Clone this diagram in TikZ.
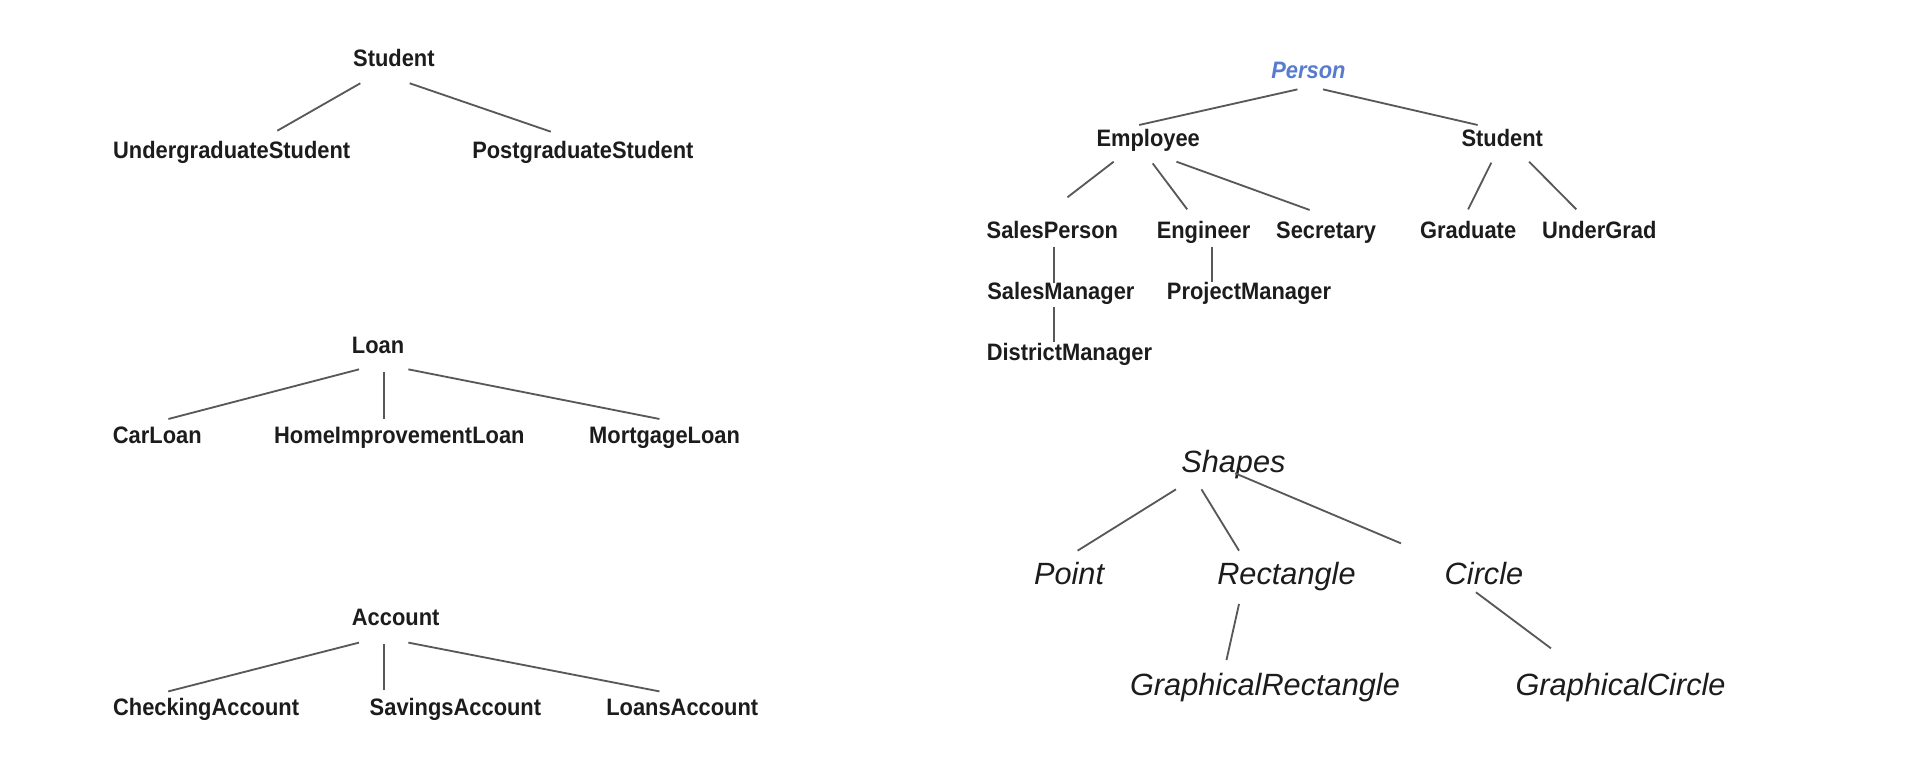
\documentclass[tikz,border=0pt]{standalone}
\usepackage{fontspec}
\newfontfamily\clsfont{Liberation Sans}[FakeStretch=0.92]
\newfontfamily\shpfont{Liberation Sans}
\definecolor{ink}{RGB}{28,28,28}
\definecolor{edgegray}{RGB}{88,88,88}
\definecolor{personblue}{RGB}{88,124,205}
\tikzset{
  cls/.style={font={\clsfont\bfseries\fontsize{19.5}{22}\selectfont}, text=ink, inner sep=0pt, text height=14pt, text depth=0pt},
  abst/.style={cls, font={\clsfont\bfseries\itshape\fontsize{19.5}{22}\selectfont}, text=personblue},
  shp/.style={font={\shpfont\itshape\fontsize{25.2}{28}\selectfont}, text=ink, inner sep=0pt, text height=18pt, text depth=0pt},
  edge/.style={draw=edgegray, line width=1.5pt}
}
\begin{document}
\begin{tikzpicture}[x=1pt,y=-1pt]
\useasboundingbox[fill=white] (0,0) rectangle (1568,628.2);

% ---- Student tree
\node[cls] (s1) at (323,47.8) {Student};
\node[cls] (ug) at (190,123) {UndergraduateStudent};
\node[cls] (pg) at (478,123) {PostgraduateStudent};
\draw[edge] ([shift={(-27.5,20.5)}]s1.center) -- ([shift={(37.4,-15.8)}]ug.center);
\draw[edge] ([shift={(13,20.5)}]s1.center) -- ([shift={(-26.3,-15)}]pg.center);

% ---- Loan tree
\node[cls] (loan) at (310,283) {Loan};
\node[cls] (car) at (129,357) {CarLoan};
\node[cls] (hil) at (327.5,357) {HomeImprovementLoan};
\node[cls] (mort) at (545,357) {MortgageLoan};
\draw[edge] ([shift={(-15.6,19.9)}]loan.center) -- ([shift={(9.1,-13.4)}]car.center);
\draw[edge] ([shift={(4.6,21.8)}]loan.center) -- ([shift={(-12.9,-13.4)}]hil.center);
\draw[edge] ([shift={(24.9,19.9)}]loan.center) -- ([shift={(-4.2,-13.4)}]mort.center);

% ---- Account tree
\node[cls] (acc) at (324.5,506) {Account};
\node[cls] (chk) at (169,580) {CheckingAccount};
\node[cls] (sav) at (373.5,580) {SavingsAccount};
\node[cls] (lac) at (559.5,580) {LoansAccount};
\draw[edge] ([shift={(-30.1,21)}]acc.center) -- ([shift={(-31,-13)}]chk.center);
\draw[edge] ([shift={(-9.9,22)}]acc.center) -- ([shift={(-58.9,-14)}]sav.center);
\draw[edge] ([shift={(10.4,21)}]acc.center) -- ([shift={(-18.7,-13)}]lac.center);

% ---- Person tree
\node[abst] (per) at (1073,57.4) {Person};
\node[cls] (emp) at (941.6,112.8) {Employee};
\node[cls] (stu) at (1232,112.8) {Student};
\node[cls] (sp) at (863,188.6) {SalesPerson};
\node[cls] (eng) at (987,188.6) {Engineer};
\node[cls] (sec) at (1087.5,188.6) {Secretary};
\node[cls] (grad) at (1204,188.6) {Graduate};
\node[cls] (ugr) at (1311.5,188.6) {UnderGrad};
\node[cls] (sm) at (870,239) {SalesManager};
\node[cls] (pm) at (1024.3,239) {ProjectManager};
\node[cls] (dm) at (877,289) {DistrictManager};
\draw[edge] ([shift={(-9,15.9)}]per.center) -- ([shift={(-7.4,-10.3)}]emp.center);
\draw[edge] ([shift={(12,15.9)}]per.center) -- ([shift={(-20.2,-10.3)}]stu.center);
\draw[edge] ([shift={(-28.3,19.8)}]emp.center) -- ([shift={(12.4,-26.8)}]sp.center);
\draw[edge] ([shift={(3.7,21.2)}]emp.center) -- ([shift={(-13.4,-16.9)}]eng.center);
\draw[edge] ([shift={(23.2,19.8)}]emp.center) -- ([shift={(-13.5,-16.4)}]sec.center);
\draw[edge] ([shift={(-9,20.6)}]stu.center) -- ([shift={(0,-16.9)}]grad.center);
\draw[edge] ([shift={(22,19.8)}]stu.center) -- ([shift={(-18.8,-16.9)}]ugr.center);
\draw[edge] ([shift={(1.4,13.7)}]sp.center) -- ([shift={(-5.6,-6.6)}]sm.center);
\draw[edge] ([shift={(-5.6,12.5)}]sm.center) -- ([shift={(-12.6,-8.8)}]dm.center);
\draw[edge] ([shift={(7.2,13.7)}]eng.center) -- ([shift={(-30.1,-8)}]pm.center);

% ---- Shapes tree
\node[shp] (sh) at (1011.5,378.6) {Shapes};
\node[shp] (pt) at (876.7,470) {Point};
\node[shp] (rect) at (1055,470) {Rectangle};
\node[shp] (circ) at (1217,470) {Circle};
\node[shp] (grect) at (1037.4,561.5) {GraphicalRectangle};
\node[shp] (gcirc) at (1329,561.5) {GraphicalCircle};
\draw[edge] ([shift={(-47.1,22.7)}]sh.center) -- ([shift={(7,-18.4)}]pt.center);
\draw[edge] ([shift={(-26.2,22.7)}]sh.center) -- ([shift={(-38.9,-18.4)}]rect.center);
\draw[edge] ([shift={(1.3,9.5)}]sh.center) -- ([shift={(-68.1,-24.4)}]circ.center);
\draw[edge] ([shift={(-38.9,25.3)}]rect.center) -- ([shift={(-31.6,-20.2)}]grect.center);
\draw[edge] ([shift={(-6.6,15.7)}]circ.center) -- ([shift={(-57.1,-29.8)}]gcirc.center);
\end{tikzpicture}
\end{document}
